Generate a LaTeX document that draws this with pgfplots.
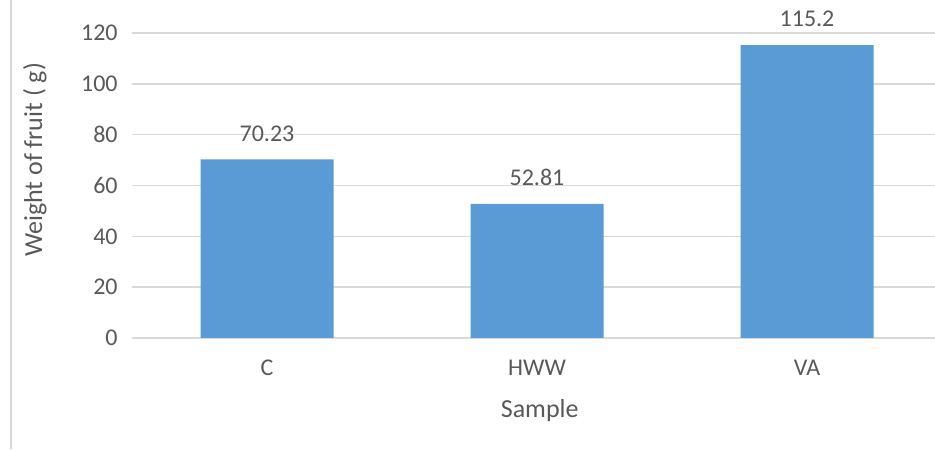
\documentclass[border=0pt]{standalone}
\usepackage{pgfplots}
\pgfplotsset{compat=1.18}
\usepackage{fontspec}
\setmainfont{Carlito}
\definecolor{barblue}{HTML}{5B9BD5}
\definecolor{txt}{HTML}{595959}
\definecolor{gridc}{HTML}{D9D9D9}
\begin{document}
\begin{tikzpicture}
\useasboundingbox (0pt,0pt) rectangle (467.5pt,224.5pt);
\draw[gridc, line width=1pt] (5.5pt,0pt) -- (5.5pt,224.5pt);
\begin{axis}[
  at={(66pt,55.5pt)}, anchor=south west,
  scale only axis, width=401.5pt, height=152.5pt,
  xmin=-0.5, xmax=2.474, ymin=0, ymax=120,
  ytick={0,20,...,120},
  xtick={0,1,2}, xticklabels={C,HWW,VA},
  axis line style={draw=none},
  ymajorgrids, grid style={gridc, line width=0.8pt},
  major tick length=0pt,
  tick label style={txt, font=\fontsize{12}{14}\selectfont},
  /pgf/number format/assume math mode=true,
  yticklabel style={anchor=east, inner sep=0pt, xshift=-7pt},
  xticklabel style={anchor=center, inner sep=0pt, yshift=-15pt},
  ylabel={Weight of fruit ( g)},
  ylabel style={at={(axis description cs:-0.121,0.584)}, anchor=center, txt, font=\fontsize{13}{15}\selectfont},
  xlabel={Sample},
  xlabel style={at={(axis cs:1.01,0)}, anchor=center, yshift=-36.5pt, txt, font=\fontsize{13}{15}\selectfont},
  clip=false,
]
\addplot[ybar, bar width=66.5pt, fill=barblue, draw=none,
  point meta=explicit symbolic,
  nodes near coords,
  nodes near coords style={anchor=center, yshift=13pt, txt, font=\fontsize{12}{14}\selectfont}]
  coordinates {(0,70.23) [70.23] (1,52.81) [52.81] (2,115.2) [115.2]};
\end{axis}
\end{tikzpicture}
\end{document}
